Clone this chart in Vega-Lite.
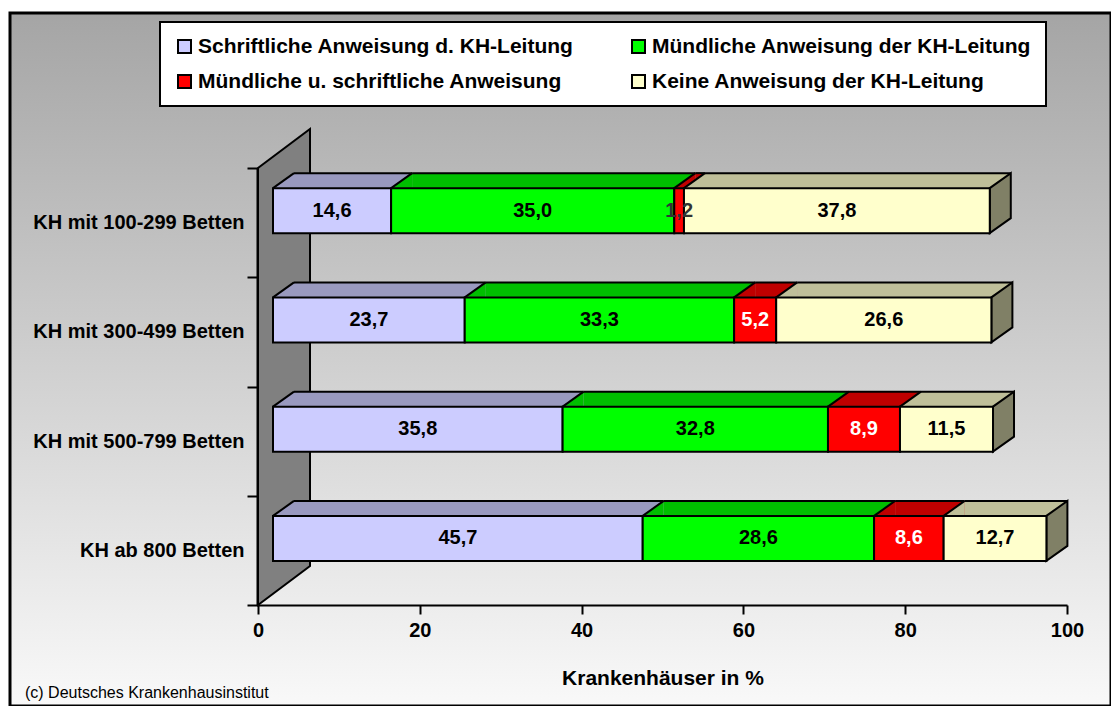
{
  "$schema": "https://vega.github.io/schema/vega-lite/v6.json",
  "width": 1101,
  "height": 693,
  "autosize": {"type": "none"},
  "padding": {"left": 10, "top": 13, "right": 0, "bottom": 0},
  "background": "white",
  "config": {
    "locale": {"number": {"decimal": ",", "thousands": ".", "grouping": [3], "currency": ["", " €"]}},
    "view": {
      "fill": {"gradient": "linear", "x1": 0, "y1": 0, "x2": 0, "y2": 1, "stops": [{"offset": 0, "color": "#a5a5a5"}, {"offset": 1, "color": "#f9f9f9"}]},
      "stroke": "black",
      "strokeWidth": 3
    },
    "font": "Liberation Sans",
    "axis": {
      "grid": false,
      "domainColor": "black",
      "domainWidth": 2,
      "tickColor": "black",
      "tickWidth": 2,
      "labelColor": "black",
      "titleColor": "black",
      "labelFont": "Liberation Sans",
      "titleFont": "Liberation Sans",
      "labelFontWeight": "bold",
      "titleFontWeight": "bold"
    }
  },
  "title": {
    "text": "(c) Deutsches Krankenhausinstitut",
    "orient": "bottom",
    "anchor": "start",
    "frame": "group",
    "offset": -21,
    "dx": 15,
    "fontSize": 16,
    "fontWeight": "normal",
    "font": "Liberation Sans",
    "color": "black"
  },
  "data": {
    "values": [
      {"kh": "KH mit 100-299 Betten", "s": "Schriftliche Anweisung d. KH-Leitung", "o": 1, "value": 14.6},
      {"kh": "KH mit 100-299 Betten", "s": "Mündliche Anweisung der KH-Leitung", "o": 2, "value": 35.0},
      {"kh": "KH mit 100-299 Betten", "s": "Mündliche u. schriftliche Anweisung", "o": 3, "value": 1.2},
      {"kh": "KH mit 100-299 Betten", "s": "Keine Anweisung der KH-Leitung", "o": 4, "value": 37.8},
      {"kh": "KH mit 300-499 Betten", "s": "Schriftliche Anweisung d. KH-Leitung", "o": 1, "value": 23.7},
      {"kh": "KH mit 300-499 Betten", "s": "Mündliche Anweisung der KH-Leitung", "o": 2, "value": 33.3},
      {"kh": "KH mit 300-499 Betten", "s": "Mündliche u. schriftliche Anweisung", "o": 3, "value": 5.2},
      {"kh": "KH mit 300-499 Betten", "s": "Keine Anweisung der KH-Leitung", "o": 4, "value": 26.6},
      {"kh": "KH mit 500-799 Betten", "s": "Schriftliche Anweisung d. KH-Leitung", "o": 1, "value": 35.8},
      {"kh": "KH mit 500-799 Betten", "s": "Mündliche Anweisung der KH-Leitung", "o": 2, "value": 32.8},
      {"kh": "KH mit 500-799 Betten", "s": "Mündliche u. schriftliche Anweisung", "o": 3, "value": 8.9},
      {"kh": "KH mit 500-799 Betten", "s": "Keine Anweisung der KH-Leitung", "o": 4, "value": 11.5},
      {"kh": "KH ab 800 Betten", "s": "Schriftliche Anweisung d. KH-Leitung", "o": 1, "value": 45.7},
      {"kh": "KH ab 800 Betten", "s": "Mündliche Anweisung der KH-Leitung", "o": 2, "value": 28.6},
      {"kh": "KH ab 800 Betten", "s": "Mündliche u. schriftliche Anweisung", "o": 3, "value": 8.6},
      {"kh": "KH ab 800 Betten", "s": "Keine Anweisung der KH-Leitung", "o": 4, "value": 12.7}
    ]
  },
  "transform": [
    {"stack": "value", "groupby": ["kh"], "sort": [{"field": "o", "order": "ascending"}], "as": ["x0", "x1"]},
    {"calculate": "(datum.x0 + datum.x1) / 2", "as": "xm"}
  ],
  "encoding": {
    "y": {
      "field": "kh",
      "type": "nominal",
      "sort": ["KH mit 100-299 Betten", "KH mit 300-499 Betten", "KH mit 500-799 Betten", "KH ab 800 Betten"],
      "scale": {"range": [155, 592], "paddingInner": 0, "paddingOuter": 0},
      "axis": {
        "orient": "left",
        "offset": -247,
        "title": null,
        "tickBand": "extent",
        "tickSize": 10,
        "labelFontSize": 20,
        "labelPadding": 3,
        "labelLimit": 400
      }
    }
  },
  "layer": [
    {
      "transform": [{"filter": "datum.o == 1 && datum.kh == 'KH ab 800 Betten'"}],
      "mark": {"type": "point", "shape": "M0,-0.76475L0,0.10925L0.104,0.03125L0.104,-0.84275Z", "size": 1000000, "filled": true, "fill": "#808080", "stroke": "black", "strokeWidth": 2, "opacity": 1},
      "encoding": {
        "x": {"field": "x0", "type": "quantitative", "scale": {"domain": [0, 100], "range": [248, 1057], "nice": false, "zero": false},
          "axis": {"orient": "bottom", "offset": -101, "values": [0, 20, 40, 60, 80, 100], "labelFlush": false, "labelFontSize": 20, "labelPadding": 6, "tickSize": 9, "title": "Krankenhäuser in %", "titleFontSize": 21, "titlePadding": 27}}
      }
    },
    {
      "mark": {"type": "bar", "size": 15, "xOffset": 36, "x2Offset": 36, "yOffset": -42, "strokeWidth": 0},
      "encoding": {
        "x": {"field": "x0", "type": "quantitative"},
        "x2": {"field": "x1"},
        "fill": {"field": "o", "type": "nominal", "legend": null,
          "scale": {"domain": [1, 2, 3, 4], "range": ["#9999bf", "#00bf00", "#bf0000", "#bfbf99"]}}
      }
    },
    {
      "mark": {"type": "point", "shape": "M0,0L0.84,0L0.84,-0.6Z", "size": 2500, "filled": true, "opacity": 1, "strokeWidth": 0, "xOffset": 15, "yOffset": -34.5},
      "encoding": {
        "x": {"field": "x0", "type": "quantitative"},
        "fill": {"field": "o", "type": "nominal", "legend": null}
      }
    },
    {
      "mark": {"type": "point", "shape": "M0,0L0.84,-0.6", "size": 2500, "filled": false, "stroke": "black", "strokeWidth": 2, "opacity": 1, "xOffset": 15, "yOffset": -34.5},
      "encoding": {
        "x": {"field": "x0", "type": "quantitative"}
      }
    },
    {
      "mark": {"type": "rule", "color": "black", "strokeWidth": 2, "xOffset": 36, "x2Offset": 36, "yOffset": -49.5},
      "encoding": {
        "x": {"field": "x0", "type": "quantitative"},
        "x2": {"field": "x1"}
      }
    },
    {
      "transform": [{"filter": "datum.o == 4"}],
      "mark": {"type": "point", "shape": "M0,-0.9L0,0.9L0.84,0.3L0.84,-1.5Z", "size": 2500, "filled": true, "fill": "#808066", "stroke": "black", "strokeWidth": 2, "opacity": 1, "xOffset": 15, "yOffset": -12},
      "encoding": {
        "x": {"field": "x1", "type": "quantitative"}
      }
    },
    {
      "mark": {"type": "bar", "size": 45, "xOffset": 15, "x2Offset": 15, "yOffset": -12, "stroke": "black", "strokeWidth": 2},
      "encoding": {
        "x": {"field": "x0", "type": "quantitative"},
        "x2": {"field": "x1"},
        "color": {"field": "s", "type": "nominal",
          "scale": {"domain": ["Schriftliche Anweisung d. KH-Leitung", "Mündliche Anweisung der KH-Leitung", "Mündliche u. schriftliche Anweisung", "Keine Anweisung der KH-Leitung"], "range": ["#ccccff", "#00ff00", "#ff0000", "#ffffcc"]},
          "legend": {"orient": "none", "legendX": 150, "legendY": 9, "direction": "horizontal", "columns": 2, "title": null, "symbolType": "square", "symbolSize": 169, "symbolStrokeColor": "black", "symbolStrokeWidth": 2, "labelFont": "Liberation Sans", "labelFontSize": 21, "labelFontWeight": "bold", "labelColor": "black", "labelOffset": 3, "labelLimit": 600, "columnPadding": 54, "rowPadding": 13, "padding": 14, "fillColor": "white", "strokeColor": "black",
            "encode": {"legend": {"update": {"strokeWidth": {"value": 2}}}}}}
      }
    },
    {
      "mark": {"type": "text", "xOffset": 15, "yOffset": -12, "fontSize": 20, "fontWeight": "bold", "font": "Liberation Sans", "align": "center", "baseline": "middle"},
      "encoding": {
        "x": {"field": "xm", "type": "quantitative"},
        "text": {"field": "value", "type": "quantitative", "format": ".1f"},
        "color": {"condition": [{"test": "datum.o == 3 && datum.value >= 2", "value": "white"}, {"test": "datum.o == 3", "value": "#333333"}], "value": "black"}
      }
    }
  ]
}
